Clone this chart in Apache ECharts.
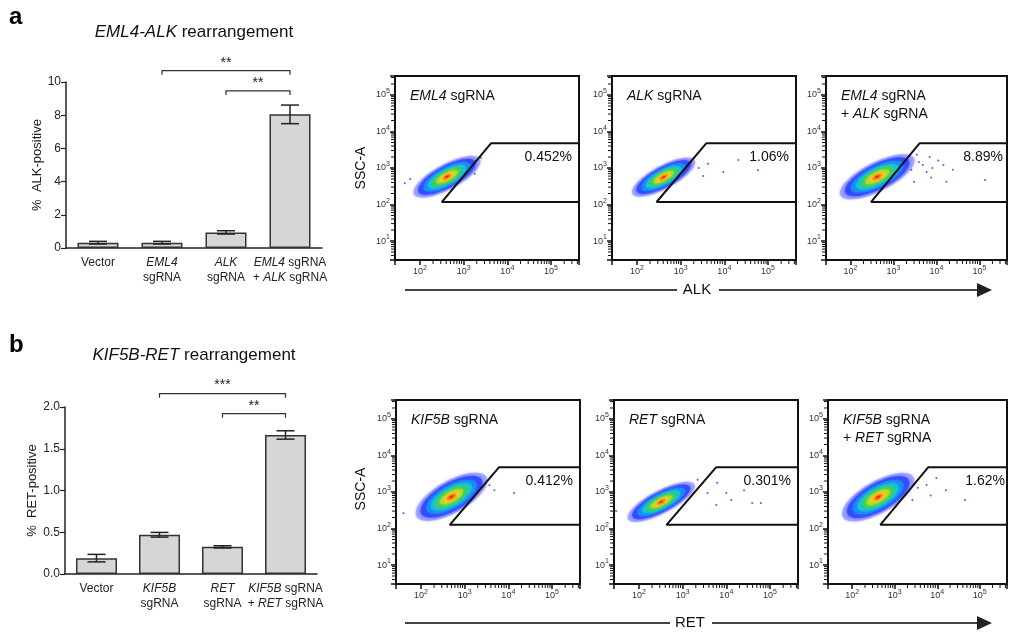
<!DOCTYPE html>
<html>
<head>
<meta charset="utf-8">
<script src="https://cdn.jsdelivr.net/npm/echarts@6/dist/echarts.min.js"></script>
<style>html,body{margin:0;background:#fff}#main{width:1010px;height:635px}</style>
</head>
<body>
<div id="main"></div>
<script>
var FONT = 'Arial, "Liberation Sans", sans-serif';

// ---- bar chart data ----
var alkCategories = ['Vector', '{i|EML4}\nsgRNA', '{i|ALK}\nsgRNA', '{i|EML4} sgRNA\n+ {i|ALK} sgRNA'];
var alkMeans = [0.32, 0.32, 0.94, 8.05];
var alkErrors = [0.08, 0.08, 0.1, 0.56];
var alkBrackets = [[1, 3, 10.68, '**'], [2, 3, 9.46, '**']];

var retCategories = ['Vector', '{i|KIF5B}\nsgRNA', '{i|RET}\nsgRNA', '{i|KIF5B} sgRNA\n+ {i|RET} sgRNA'];
var retMeans = [0.19, 0.47, 0.325, 1.665];
var retErrors = [0.045, 0.028, 0.013, 0.05];
var retBrackets = [[1, 3, 2.16, '***'], [2, 3, 1.92, '**']];

// ---- flow panels (order: EML4, ALK, EML4+ALK, KIF5B, RET, KIF5B+RET) ----
var panelTitles = ['{i|EML4} sgRNA', '{i|ALK} sgRNA', '{i|EML4} sgRNA\n+ {i|ALK} sgRNA',
                   '{i|KIF5B} sgRNA', '{i|RET} sgRNA', '{i|KIF5B} sgRNA\n+ {i|RET} sgRNA'];
var panelPercents = ['0.452%', '1.06%', '8.89%', '0.412%', '0.301%', '1.62%'];
// gate vertices: bottom-left and top-left corner (x, SSC-A)
var gateLow = [[316, 117], [282, 117], [299, 117], [457, 126], [427, 126], [457, 126]];
var gateHigh = [[4270, 4790], [3890, 4790], [4070, 4790], [6170, 4790], [5890, 4790], [6170, 4790]];
// main population: centre, spread in decades (long, short), tilt in degrees
var cloudCenters = [[417, 575], [407, 562], [417, 575], [501, 740], [324, 537], [407, 724]];
var cloudSpread = [[0.9, 0.33], [0.85, 0.3], [1.0, 0.38], [0.97, 0.42], [0.9, 0.3], [1.0, 0.42]];
var cloudTilt = [34, 34, 32, 36, 33, 35];
// sparse events
var panelEvents = [
  [[1300, 1500], [2500, 1900], [1800, 700], [60, 500], [45, 380]],
  [[2600, 1000], [4200, 1300], [9500, 780], [21000, 1650], [59000, 870], [3300, 600], [1700, 1400]],
  [[6900, 2000], [14500, 1200], [17000, 420], [135000, 470], [5900, 780], [3900, 1450], [3000, 420],
   [8000, 1000], [11000, 1600], [4800, 1200], [2600, 900], [7500, 550], [24000, 900], [3500, 2300]],
  [[4800, 1120], [13500, 940], [3700, 1540], [40, 260]],
  [[3700, 940], [6200, 1780], [10000, 940], [13000, 600], [25500, 1120], [39000, 500], [62000, 500],
   [5900, 440], [2200, 2150], [30, 300]],
  [[5600, 1550], [16000, 1120], [45000, 600], [2600, 600], [9500, 2400], [3500, 1300], [7000, 800]]
];

var X_MIN = Math.pow(10, 1.43), X_MAX = Math.pow(10, 5.64);
var Y_MIN = Math.pow(10, 0.48), Y_MAX = Math.pow(10, 5.52);
var flowBoxes = [[395, 76], [612, 76], [826, 76], [396, 400], [614, 400], [828, 400]];
var FLOW_W = 184, FLOW_H = 184;

var LAYERS = [
  {r: 1.0, color: '#3a3aff', op: 0.3},
  {r: 0.86, color: '#2a40ff', op: 0.7},
  {r: 0.7, color: '#1a8cf5', op: 1},
  {r: 0.56, color: '#18c4d8', op: 1},
  {r: 0.44, color: '#3ccf5a', op: 1},
  {r: 0.32, color: '#a8dc30', op: 1},
  {r: 0.22, color: '#f0d020', op: 1},
  {r: 0.13, color: '#ff8a1c', op: 1},
  {r: 0.06, color: '#e42a1e', op: 1}
];

function supLabel(v) {
  var e = Math.log10(v), r = Math.round(e);
  if (Math.abs(e - r) > 1e-6) return '';
  return '10{s|' + r + '}';
}

var grids = [], xAxes = [], yAxes = [], series = [], graphics = [];

// ---- bar charts ----
function addBarChart(gi, box, cats, means, errs, max, interval, decimals, yName, nameGap, brackets) {
  grids.push({left: box[0], top: box[1], width: box[2], height: box[3]});
  xAxes.push({
    type: 'category', gridIndex: gi, data: cats,
    axisLine: {lineStyle: {color: '#222', width: 1.5}},
    axisTick: {alignWithLabel: true, length: 4, lineStyle: {color: '#222', width: 1.2}},
    axisLabel: {interval: 0, color: '#222', fontSize: 12, fontFamily: FONT, lineHeight: 15, margin: 7,
      rich: {i: {fontStyle: 'italic', fontSize: 12, fontFamily: FONT, color: '#222', lineHeight: 15}}}
  });
  yAxes.push({
    type: 'value', gridIndex: gi, min: 0, max: max, interval: interval,
    name: yName, nameLocation: 'middle', nameGap: nameGap,
    nameTextStyle: {fontSize: 13, color: '#222', fontFamily: FONT},
    splitLine: {show: false},
    axisLine: {show: true, lineStyle: {color: '#222', width: 1.5}},
    axisTick: {show: true, length: 5, lineStyle: {color: '#222', width: 1.2}},
    axisLabel: {fontSize: 12, color: '#222', fontFamily: FONT, margin: 5,
      formatter: function (v) { return v.toFixed(decimals); }}
  });
  series.push({
    type: 'bar', xAxisIndex: gi, yAxisIndex: gi, data: means, barWidth: 41,
    itemStyle: {color: '#d6d6d6', borderColor: '#333', borderWidth: 1.5}, silent: true
  });
  series.push({
    type: 'custom', xAxisIndex: gi, yAxisIndex: gi, silent: true, clip: false, z: 5,
    data: means.map(function (m, i) { return [i, m - errs[i], m + errs[i]]; }),
    renderItem: function (params, api) {
      var lo = api.coord([api.value(0), api.value(1)]);
      var hi = api.coord([api.value(0), api.value(2)]);
      var st = {stroke: '#222', lineWidth: 1.5};
      return {type: 'group', children: [
        {type: 'line', shape: {x1: lo[0], y1: lo[1], x2: hi[0], y2: hi[1]}, style: st},
        {type: 'line', shape: {x1: lo[0] - 9, y1: lo[1], x2: lo[0] + 9, y2: lo[1]}, style: st},
        {type: 'line', shape: {x1: hi[0] - 9, y1: hi[1], x2: hi[0] + 9, y2: hi[1]}, style: st}
      ]};
    }
  });
  series.push({
    type: 'custom', xAxisIndex: gi, yAxisIndex: gi, silent: true, clip: false, z: 5,
    data: brackets.map(function (b) { return [b[0], b[2], b[1]]; }),
    renderItem: function (params, api) {
      var a = api.coord([api.value(0), api.value(1)]);
      var b = api.coord([api.value(2), api.value(1)]);
      var label = brackets[params.dataIndex][3];
      return {type: 'group', children: [
        {type: 'polyline', shape: {points: [[a[0], a[1] + 4], a, b, [b[0], b[1] + 4]]},
          style: {stroke: '#333', lineWidth: 1.2, fill: null}},
        {type: 'text', x: (a[0] + b[0]) / 2, y: a[1] - 1,
          style: {text: label, fontSize: 14, fontFamily: FONT, fill: '#222', align: 'center', verticalAlign: 'bottom'}}
      ]};
    }
  });
}

addBarChart(0, [66, 82, 256, 166], alkCategories, alkMeans, alkErrors, 10, 2, 0, '%  ALK-positive', 21, alkBrackets);
addBarChart(1, [65, 407, 252, 167], retCategories, retMeans, retErrors, 2, 0.5, 1, '%  RET-positive', 26, retBrackets);

// ---- flow panels ----
var mant = [2, 3, 4, 5, 6, 7, 8, 9];
function minorTickData() {
  var d = [];
  for (var e = 0; e <= 5; e++) {
    mant.forEach(function (m) {
      var v = m * Math.pow(10, e);
      if (v > 100 && v < X_MAX) d.push([v, Y_MIN, 0]);
      if (v > Y_MIN && v < Y_MAX) d.push([X_MIN, v, 1]);
    });
  }
  return d;
}

flowBoxes.forEach(function (b, k) {
  var gi = grids.length;
  grids.push({left: b[0], top: b[1], width: FLOW_W, height: FLOW_H,
    show: true, borderColor: '#111', borderWidth: 2, backgroundColor: 'transparent'});
  var axisCommon = {
    type: 'log', logBase: 10, gridIndex: gi, splitNumber: 4,
    splitLine: {show: false},
    axisLine: {show: true, lineStyle: {color: '#111', width: 2}},
    axisTick: {show: true, length: 5, lineStyle: {color: '#111', width: 1.5}},
    axisLabel: {formatter: supLabel, fontSize: 9, color: '#333', fontFamily: FONT, margin: 5,
      rich: {s: {fontSize: 7, color: '#333', fontFamily: FONT, padding: [0, 0, 7, 0]}}}
  };
  xAxes.push(Object.assign({}, axisCommon, {min: X_MIN, max: X_MAX}));
  yAxes.push(Object.assign({}, axisCommon, {min: Y_MIN, max: Y_MAX}));

  // main population
  series.push({
    type: 'custom', xAxisIndex: gi, yAxisIndex: gi, silent: true, clip: true, z: 2,
    data: [cloudCenters[k]],
    renderItem: function (params, api) {
      var s = cloudSpread[k], ang = cloudTilt[k] * Math.PI / 180;
      var lx = Math.log10(api.value(0)), ly = Math.log10(api.value(1));
      var children = LAYERS.map(function (L) {
        var pts = [];
        for (var t = 0; t < 60; t++) {
          var th = t / 60 * 2 * Math.PI;
          var u = s[0] * L.r * Math.cos(th), v = s[1] * L.r * Math.sin(th);
          pts.push(api.coord([Math.pow(10, lx + u * Math.cos(ang) - v * Math.sin(ang)),
                              Math.pow(10, ly + u * Math.sin(ang) + v * Math.cos(ang))]));
        }
        return {type: 'polygon', shape: {points: pts},
          style: {fill: L.color, opacity: L.op, shadowBlur: 3, shadowColor: L.color}};
      });
      return {type: 'group', children: children};
    }
  });
  // sparse events
  series.push({
    type: 'scatter', xAxisIndex: gi, yAxisIndex: gi, silent: true, z: 3,
    data: panelEvents[k], symbolSize: 2, itemStyle: {color: '#2a2aff'}
  });
  // gate
  var lo = gateLow[k], hi = gateHigh[k];
  series.push({
    type: 'line', xAxisIndex: gi, yAxisIndex: gi, silent: true, z: 4,
    data: [[X_MAX, hi[1]], hi, lo, [X_MAX, lo[1]]],
    symbol: 'none', lineStyle: {color: '#111', width: 2}
  });
  // minor ticks
  series.push({
    type: 'custom', xAxisIndex: gi, yAxisIndex: gi, silent: true, clip: false, z: 4,
    data: minorTickData(),
    renderItem: function (params, api) {
      var p = api.coord([api.value(0), api.value(1)]);
      var shape = api.value(2) === 0
        ? {x1: p[0], y1: p[1] + 1, x2: p[0], y2: p[1] + 4}
        : {x1: p[0] - 4, y1: p[1], x2: p[0] - 1, y2: p[1]};
      return {type: 'line', shape: shape, style: {stroke: '#111', lineWidth: 1}};
    }
  });

  graphics.push({type: 'text', x: b[0] + 15, y: b[1] + 11, z: 10,
    style: {text: panelTitles[k], fontSize: 14, fontFamily: FONT, fill: '#111', lineHeight: 18,
      rich: {i: {fontStyle: 'italic', fontSize: 14, fontFamily: FONT, fill: '#111', lineHeight: 18}}}});
  graphics.push({type: 'text', x: b[0] + FLOW_W - 7, y: b[1] + 81, z: 10,
    style: {text: panelPercents[k], fontSize: 14, fontFamily: FONT, fill: '#111', align: 'right', verticalAlign: 'middle'}});
});

// ---- headings and axis names ----
graphics.push(
  {type: 'text', x: 9, y: 5, style: {text: 'a', fontSize: 24, fontWeight: 'bold', fontFamily: FONT, fill: '#000'}},
  {type: 'text', x: 9, y: 333, style: {text: 'b', fontSize: 24, fontWeight: 'bold', fontFamily: FONT, fill: '#000'}},
  {type: 'text', x: 194, y: 32, style: {text: '{i|EML4-ALK} rearrangement', fontSize: 17, fontFamily: FONT, fill: '#111',
    align: 'center', verticalAlign: 'middle', rich: {i: {fontStyle: 'italic', fontSize: 17, fontFamily: FONT, fill: '#111'}}}},
  {type: 'text', x: 194, y: 355, style: {text: '{i|KIF5B-RET} rearrangement', fontSize: 17, fontFamily: FONT, fill: '#111',
    align: 'center', verticalAlign: 'middle', rich: {i: {fontStyle: 'italic', fontSize: 17, fontFamily: FONT, fill: '#111'}}}}
);
[[168, 290, 'ALK', 697], [489, 623, 'RET', 690]].forEach(function (row) {
  graphics.push(
    {type: 'text', x: 361, y: row[0], rotation: Math.PI / 2,
      style: {text: 'SSC-A', fontSize: 14, fontFamily: FONT, fill: '#111', align: 'center', verticalAlign: 'middle'}},
    {type: 'line', shape: {x1: 405, y1: row[1], x2: row[3] - 20, y2: row[1]}, style: {stroke: '#444', lineWidth: 2}},
    {type: 'line', shape: {x1: row[3] + 22, y1: row[1], x2: 980, y2: row[1]}, style: {stroke: '#444', lineWidth: 2}},
    {type: 'polygon', shape: {points: [[977, row[1] - 7], [992, row[1]], [977, row[1] + 7]]}, style: {fill: '#222'}},
    {type: 'text', x: row[3], y: row[1], style: {text: row[2], fontSize: 15, fontFamily: FONT, fill: '#111',
      align: 'center', verticalAlign: 'middle'}}
  );
});

var chart = echarts.init(document.getElementById('main'));
chart.setOption({
  animation: false,
  backgroundColor: '#fff',
  grid: grids,
  xAxis: xAxes,
  yAxis: yAxes,
  series: series,
  graphic: graphics
});
</script>
</body>
</html>
